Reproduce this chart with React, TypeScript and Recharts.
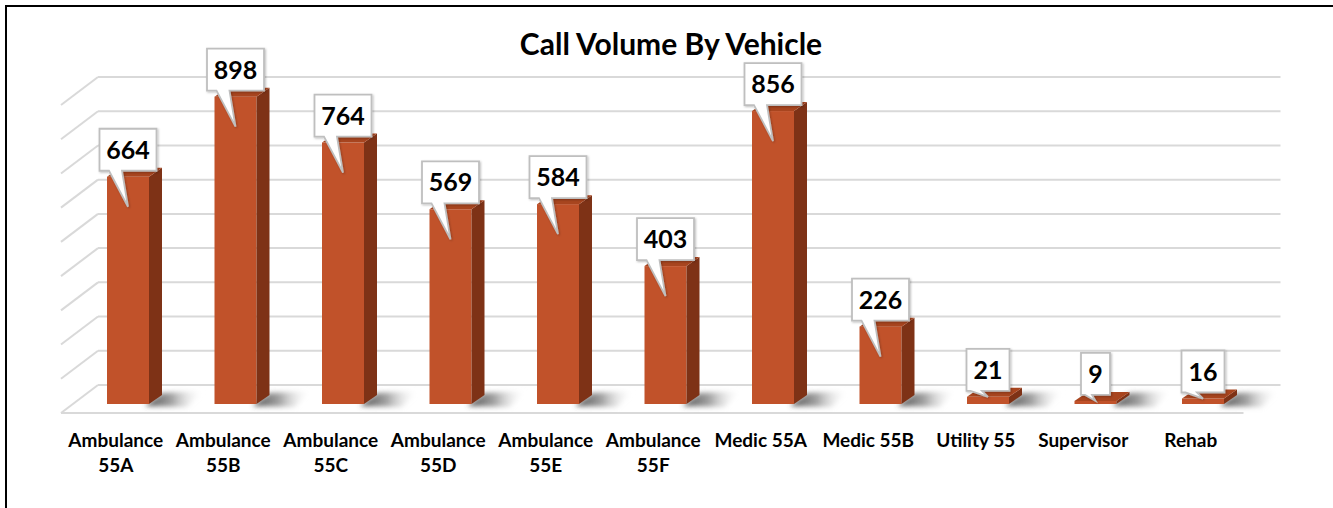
import React from 'react';
import { BarChart, Bar, XAxis, YAxis, CartesianGrid, LabelList } from 'recharts';

const vehicles = [
  'Ambulance\n55A',
  'Ambulance\n55B',
  'Ambulance\n55C',
  'Ambulance\n55D',
  'Ambulance\n55E',
  'Ambulance\n55F',
  'Medic 55A',
  'Medic 55B',
  'Utility 55',
  'Supervisor',
  'Rehab',
];
const calls = [664, 898, 764, 569, 584, 403, 856, 226, 21, 9, 16];
const yTicks = [0, 100, 200, 300, 400, 500, 600, 700, 800, 900];

const data = vehicles.map((name, i) => ({ name, calls: calls[i] }));

const W = 1333;
const H = 508;
const FONT = 'Lato, "Open Sans", sans-serif';
const BAR_FRONT = '#C1522A';
const BAR_SIDE = '#7E3216';
const BAR_TOP = '#A8451F';
const GRID = '#D9D9D9';
// fake 3d offsets
const DEPTH_X = 13;
const DEPTH_Y = 9;
const WALL_DX = 24;
const WALL_DY = -19;
const SIDE_DX = -37;
const SIDE_DY = 28;
const PLOT_BOTTOM = 404;

// back wall line + left wall diagonal, floor edge for the zero line
function WallLine(p: any) {
  const x1 = p.x1 + WALL_DX;
  const x2 = p.x2 + WALL_DX;
  const y = p.y1 + WALL_DY;
  const isFloor = Math.abs(p.y1 - PLOT_BOTTOM) < 1;
  return (
    <g key={p.key}>
      <line x1={x1} y1={y} x2={x2} y2={y} stroke={GRID} strokeWidth={2} />
      <line x1={x1} y1={y} x2={x1 + SIDE_DX} y2={y + SIDE_DY} stroke={GRID} strokeWidth={2} />
      {isFloor && (
        <line
          x1={x1 + SIDE_DX}
          y1={y + SIDE_DY}
          x2={x2 + SIDE_DX}
          y2={y + SIDE_DY}
          stroke={GRID}
          strokeWidth={2}
        />
      )}
    </g>
  );
}

function Bar3D(p: any) {
  const { x, y, width: w, height: h, index } = p;
  const b = y + h;
  const shadow = [
    [x + w - 4, b + 2],
    [x + w + DEPTH_X, b - DEPTH_Y - 2],
    [x + w + 55, b - DEPTH_Y - 4],
    [x + w + 38, b + 3],
  ]
    .map((pt) => pt.join(','))
    .join(' ');
  return (
    <g>
      {index === 0 && (
        <defs>
          <linearGradient id="floorShadow" x1="0" y1="0" x2="1" y2="0">
            <stop offset="0%" stopColor="#4a4a4a" stopOpacity={1} />
            <stop offset="45%" stopColor="#7a7a7a" stopOpacity={0.7} />
            <stop offset="100%" stopColor="#ffffff" stopOpacity={0} />
          </linearGradient>
          <filter id="soft" x="-50%" y="-100%" width="200%" height="300%">
            <feGaussianBlur stdDeviation="2.5" />
          </filter>
          <filter id="calloutShadow" x="-20%" y="-20%" width="140%" height="140%">
            <feDropShadow dx="1" dy="1" stdDeviation="1" floodColor="#000" floodOpacity="0.25" />
          </filter>
        </defs>
      )}
      <polygon points={shadow} fill="url(#floorShadow)" filter="url(#soft)" />
      <rect x={x} y={y} width={w} height={h} fill={BAR_FRONT} />
      <polygon
        points={`${x + w},${y} ${x + w + DEPTH_X},${y - DEPTH_Y} ${x + w + DEPTH_X},${b - DEPTH_Y} ${x + w},${b}`}
        fill={BAR_SIDE}
      />
      <polygon
        points={`${x},${y} ${x + w},${y} ${x + w + DEPTH_X},${y - DEPTH_Y} ${x + DEPTH_X},${y - DEPTH_Y}`}
        fill={BAR_TOP}
      />
    </g>
  );
}

function Callout(p: any) {
  const { x, y, width: w, height: h, value } = p;
  const cx = x + w / 2;
  const text = String(value);
  const bw = text.length * 14 + 15;
  const bottom = y - 6;
  const top = bottom - 42;
  const left = cx - bw / 2;
  const right = cx + bw / 2;
  const tipY = y + Math.min(30, Math.max(0, h - 20));
  const pl = Math.max(left + 4, cx - 19);
  const pr = Math.max(pl + 7, cx - 6);
  const d = `M${left},${top} H${right} V${bottom} H${pr} L${cx},${tipY} L${pl},${bottom} H${left} Z`;
  return (
    <g>
      <path d={d} fill="#fff" stroke="#BFBFBF" strokeWidth={1.8} filter="url(#calloutShadow)" />
      <text
        x={cx}
        y={bottom - 12}
        textAnchor="middle"
        fontFamily={FONT}
        fontWeight={700}
        fontSize={25}
        fill="#000"
      >
        {text}
      </text>
    </g>
  );
}

function VehicleTick(p: any) {
  const lines = String(p.payload.value).split('\n');
  return (
    <g>
      {lines.map((l, i) => (
        <text
          key={i}
          x={p.x - 12}
          y={p.y + 43 + i * 25}
          textAnchor="middle"
          fontFamily={FONT}
          fontWeight={700}
          fontSize={19}
          fill="#000"
        >
          {l}
        </text>
      ))}
    </g>
  );
}

export default function App() {
  return (
    <div style={{ position: 'absolute', left: 0, top: 0, width: W, height: H, overflow: 'hidden', background: '#fff' }}>
      <div
        style={{
          position: 'absolute',
          left: 5,
          top: 5,
          width: W,
          height: H,
          borderLeft: '2px solid #000',
          borderTop: '2px solid #000',
        }}
      />
      <div style={{ position: 'absolute', left: 0, top: 0 }}>
        <BarChart width={W} height={H} data={data} margin={{ top: 96, right: 76.5, bottom: 44, left: 74 }}>
          <CartesianGrid vertical={false} horizontal={(props: any) => <WallLine {...props} />} />
          <XAxis
            dataKey="name"
            height={60}
            axisLine={false}
            tickLine={false}
            tickSize={0}
            tickMargin={0}
            interval={0}
            tick={<VehicleTick />}
          />
          <YAxis hide domain={[0, 900]} ticks={yTicks} />
          <Bar dataKey="calls" barSize={42} shape={<Bar3D />} isAnimationActive={false}>
            <LabelList dataKey="calls" content={<Callout />} />
          </Bar>
        </BarChart>
      </div>
      <svg width={W} height={H} style={{ position: 'absolute', left: 0, top: 0, pointerEvents: 'none' }}>
        <text x={671} y={55} textAnchor="middle" fontFamily={FONT} fontWeight={700} fontSize={30} fill="#000">
          Call Volume By Vehicle
        </text>
      </svg>
    </div>
  );
}
